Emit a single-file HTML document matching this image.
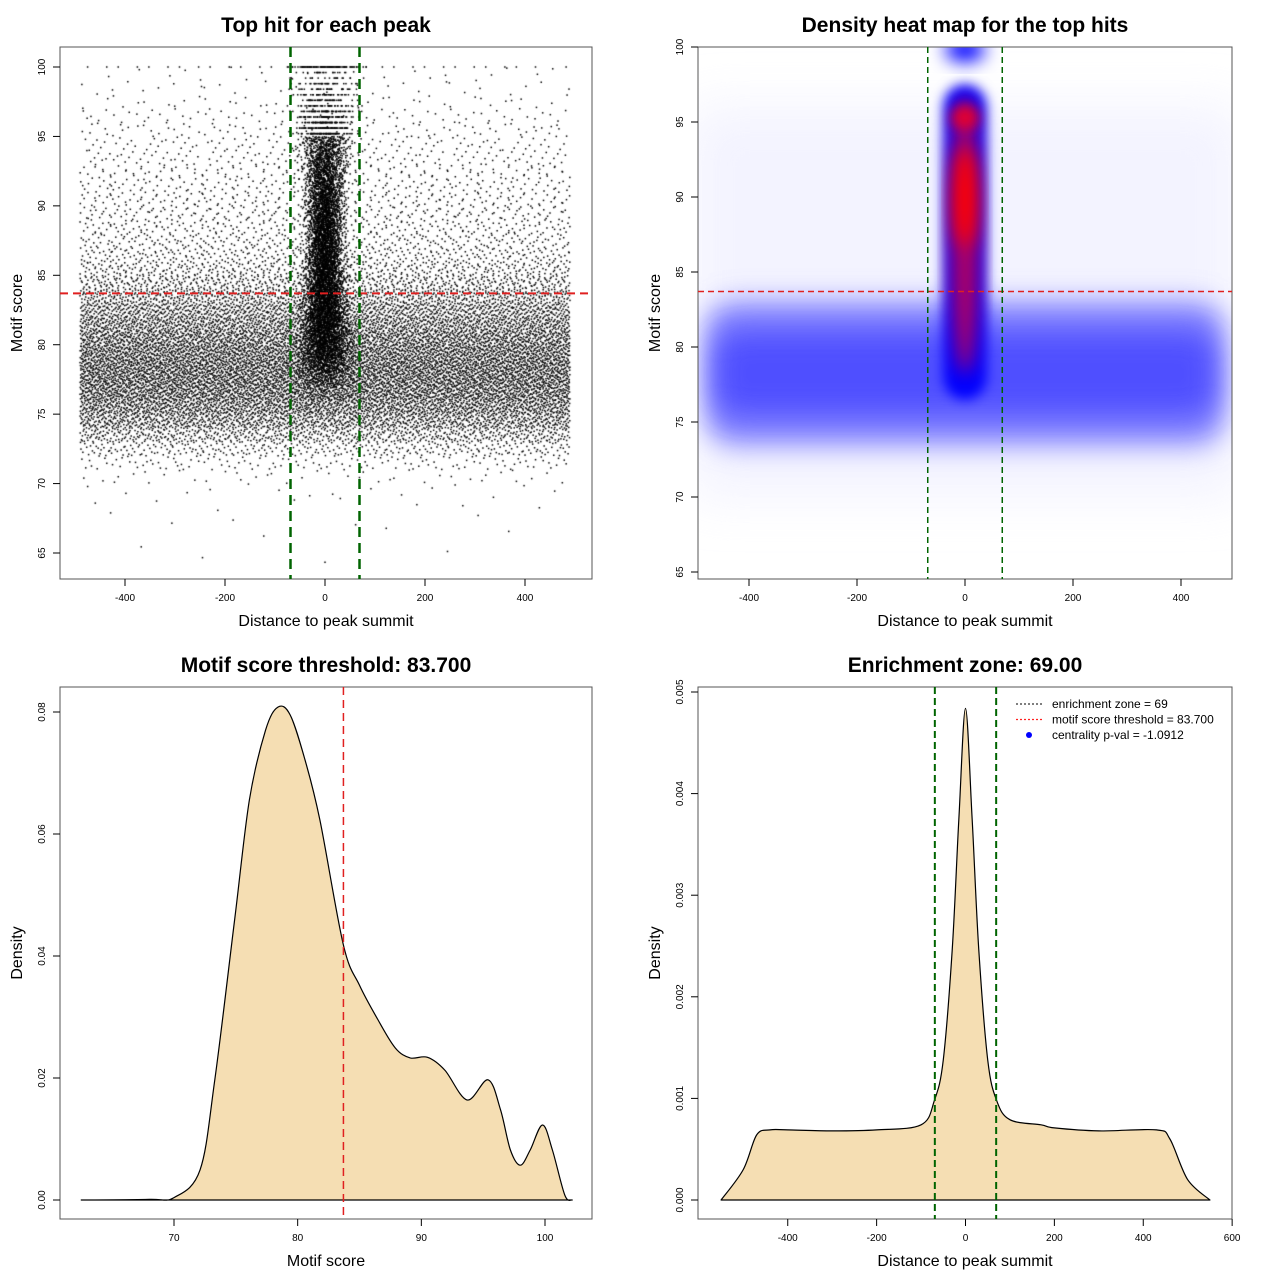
<!DOCTYPE html>
<html><head><meta charset="utf-8">
<style>
html,body{margin:0;padding:0;background:#fff;}
#wrap{position:relative;width:1280px;height:1280px;overflow:hidden;font-family:"Liberation Sans",Arial,sans-serif;}
canvas,svg{position:absolute;left:0;top:0;}
</style></head>
<body>
<div id="wrap">
<canvas id="sc" width="1280" height="1280"></canvas>
<svg id="sv" width="1280" height="1280" xmlns="http://www.w3.org/2000/svg">
<defs>
<filter id="b25" x="-50%" y="-50%" width="200%" height="200%"><feGaussianBlur stdDeviation="25"/></filter>
<filter id="b15" x="-50%" y="-50%" width="200%" height="200%"><feGaussianBlur stdDeviation="14"/></filter>
<filter id="b10" x="-50%" y="-50%" width="200%" height="200%"><feGaussianBlur stdDeviation="9"/></filter>
<filter id="b6" x="-50%" y="-50%" width="200%" height="200%"><feGaussianBlur stdDeviation="6"/></filter>
<clipPath id="c2"><rect x="698" y="47" width="534" height="532"/></clipPath>
</defs>
</svg>
</div>
<script>
// ---------- data ----------
const scoreBins = [64,65,66,67,68,69,70,71,72,73,74,75,76,77,78,79,80,81,82,83,84,85,86,87,88,89,90,91,92,93,94,95,96,97,98,99,100];
const bgCounts  = [2,2,3,5,8,15,40,130,320,650,1050,1350,1550,1650,1650,1550,1400,1200,1000,780,560,400,300,250,220,200,180,160,140,120,100,90,70,40,30,20,30];
const centerCounts = [0,0,0,0,0,0,0,0,0,0,0,10,50,130,280,390,450,470,470,460,450,440,420,400,390,370,350,320,300,270,240,200,160,110,80,50,90];
const centerSpread = [20,20,20,20,20,20,20,20,20,20,20,30,30,28,26,25,24,22,21,20,19,18,18,17,17,18,18,19,20,22,24,26,28,30,32,34,36];
const scoreX = [62.5,68,70,72.1,73.3,74.9,76.1,77.4,78.4,79.4,80.6,81.8,83.7,85,86.5,87.9,89.1,90.5,91.9,93.7,95.4,96.4,97.2,98,98.8,99.8,100.6,101.6,102.2];
const scoreD = [0,0.0001,0.0004,0.0049,0.0197,0.0459,0.0656,0.0770,0.0808,0.0795,0.0721,0.0623,0.0418,0.0352,0.0295,0.0249,0.0233,0.0234,0.0213,0.0164,0.0197,0.0148,0.0082,0.0057,0.0082,0.0123,0.0082,0.0008,0];
const distX = [-550,-500,-470,-440,-400,-300,-200,-100,-70,-50,-30,-15,0,15,30,50,70,100,170,200,300,430,460,500,550];
const distD = [0,0.0003,0.00064,0.00069,0.00069,0.00068,0.00069,0.00074,0.00098,0.00138,0.00246,0.00374,0.00484,0.00374,0.00246,0.00138,0.00098,0.00079,0.00074,0.00071,0.00068,0.00069,0.0006,0.0002,0];
const xTicks1 = [-400,-200,0,200,400];
const yTicks1 = [65,70,75,80,85,90,95,100];
const xTicks3 = [70,80,90,100];
const yTicks3 = [0,0.02,0.04,0.06,0.08];
const yLabels3 = ["0.00","0.02","0.04","0.06","0.08"];
const xTicks4 = [-400,-200,0,200,400,600];
const yTicks4 = [0,0.001,0.002,0.003,0.004,0.005];
const yLabels4 = ["0.000","0.001","0.002","0.003","0.004","0.005"];
const threshold = 83.7, zone = 69;

// ---------- scales ----------
const x1 = v => 325 + v*0.5, y1 = v => 67 + (100-v)*13.886;
const x2 = v => 965 + v*0.54, y2 = v => 47 + (100-v)*15;
const x3 = v => 174 + (v-70)*12.367, y3 = v => 1200 - v*6100;
const x4 = v => 965.5 + v*0.4444, y4 = v => 1200 - v*101600;

const NS="http://www.w3.org/2000/svg";
const svgRoot=document.getElementById('sv');
function mk(tag,attrs,parent){const e=document.createElementNS(NS,tag);for(const k in attrs)e.setAttribute(k,attrs[k]);(parent||svgRoot).appendChild(e);return e;}
function txt(s,x,y,size,opts){const t=mk('text',Object.assign({x:x,y:y,'font-size':size,'text-anchor':'middle',fill:'#000'},opts||{}));t.textContent=s;return t;}

// ---------- scatter (panel 1) ----------
function halton(i,b){let f=1,r=0;while(i>0){f/=b;r+=f*(i%b);i=Math.floor(i/b);}return r;}
const ctx=document.getElementById('sc').getContext('2d');
ctx.fillStyle='#000';
let idx=1;
scoreBins.forEach((s,bi)=>{
  for(let k=0;k<bgCounts[bi];k++,idx++){
    const dx=-490+980*halton(idx,2);
    const sv = s===100?100:s+halton(idx,3);
    ctx.fillRect(x1(dx)-0.75,y1(sv)-0.75,1.5,1.5);
  }
  for(let k=0;k<centerCounts[bi];k++,idx++){
    const g=(halton(idx,2)+halton(idx,5)+halton(idx,7)+halton(idx,11)-2)*1.73;
    const dx=g*centerSpread[bi];
    let sv = s===100?100:s+halton(idx,3);
    if(s>=95 && s<100) sv=Math.round(sv/0.4)*0.4;
    ctx.fillRect(x1(dx)-0.75,y1(sv)-0.75,1.5,1.5);
  }
});

// ---------- axes helper ----------
function panel(name,box,title,xlab,ylab,xt,xs,yt,ys,yl){
  const g=mk('g',{});
  
  
  const [L,T,R,B]=box;
  const fr=mk('rect',{x:L,y:T,width:R-L,height:B-T,fill:'none',stroke:'#555','stroke-width':1},g);
  
  const t=txt(title,(L+R)/2,T-15,21,{'font-weight':'bold'});g.appendChild(t);
  
  const xl=txt(xlab,(L+R)/2,B+47,16);g.appendChild(xl);
  
  const cy=(T+B)/2;
  const ylx=(L<300)?22:660;
  const yl2=txt(ylab,ylx,cy,16,{transform:`rotate(-90 ${ylx} ${cy})`});g.appendChild(yl2);
  
  xt.forEach(v=>{const p=xs(v);
    const l=mk('line',{x1:p,y1:B,x2:p,y2:B+7,stroke:'#000'},g);
    
    const tl=txt(String(v),p,B+22,10);g.appendChild(tl);
    });
  yt.forEach((v,i)=>{const p=ys(v);
    const l=mk('line',{x1:L,y1:p,x2:L-7,y2:p,stroke:'#000'},g);
    
    const lx=L-15;
    const tl=txt(yl?yl[i]:String(v),lx,p,10,{transform:`rotate(-90 ${lx} ${p})`});g.appendChild(tl);
    });
  return g;
}
function vline(x,y0,y1_,col,w,dash,name){const l=mk('line',{x1:x,y1:y0,x2:x,y2:y1_,stroke:col,'stroke-width':w,'stroke-dasharray':dash});return l;}
function hline(y,x0,x1_,col,w,dash,name){const l=mk('line',{x1:x0,y1:y,x2:x1_,y2:y,stroke:col,'stroke-width':w,'stroke-dasharray':dash});return l;}

// panel 1
panel('scatter-panel',[60,47,592,579],'Top hit for each peak','Distance to peak summit','Motif score',xTicks1,x1,yTicks1,y1);
hline(y1(threshold),60,592,'#e02020',2,'8,5','threshold-line');
vline(x1(-zone),47,579,'#006400',2.5,'10,6','zone-left-line');
vline(x1(zone),47,579,'#006400',2.5,'10,6','zone-right-line');

// panel 2 heat map
const hm=mk('g',{'clip-path':'url(#c2)'});

const band2=mk('rect',{x:690,y:y2(96),width:550,height:y2(70)-y2(96),fill:'#eeeeff',opacity:0.7,filter:'url(#b25)'},hm);

const band=mk('rect',{x:705,y:y2(83),width:520,height:y2(73.5)-y2(83),rx:30,fill:'#8080ff',filter:'url(#b15)'},hm);

const band3=mk('rect',{x:715,y:y2(81),width:500,height:y2(75.5)-y2(81),rx:25,fill:'#5050ff',filter:'url(#b15)'},hm);

const colRect=mk('rect',{x:x2(-40),y:y2(97.5),width:x2(40)-x2(-40),height:y2(76.5)-y2(97.5),rx:22,fill:'#0000ff',filter:'url(#b6)'},hm);

const topBlob=mk('ellipse',{cx:x2(0),cy:y2(99.8),rx:20,ry:12,fill:'#0000ff',filter:'url(#b10)'},hm);

const core=mk('ellipse',{cx:x2(0),cy:y2(87.5),rx:14,ry:140,fill:'#b00060',filter:'url(#b10)'},hm);

const core2=mk('ellipse',{cx:x2(0),cy:y2(95.3),rx:14,ry:13,fill:'#e00030',filter:'url(#b6)'},hm);

const core3=mk('ellipse',{cx:x2(0),cy:y2(90),rx:12,ry:50,fill:'#ff0000',filter:'url(#b10)'},hm);

panel('heatmap-panel',[698,47,1232,579],'Density heat map for the top hits','Distance to peak summit','Motif score',xTicks1,x2,yTicks1,y2);
hline(y2(threshold),698,1232,'#e02020',1.5,'6,4','threshold-line');
vline(x2(-zone),47,579,'#006400',1.5,'6,4','zone-left-line');
vline(x2(zone),47,579,'#006400',1.5,'6,4','zone-right-line');

// smooth area helper (Catmull-Rom)
function area(xs,ys,X,D,name){
  const pts=xs.map((v,i)=>[X(v),D(ys[i])]);
  let d=`M${pts[0][0]},${D(0)} L${pts[0][0]},${pts[0][1]}`;
  for(let i=0;i<pts.length-1;i++){
    const p0=pts[Math.max(0,i-1)],p1=pts[i],p2=pts[i+1],p3=pts[Math.min(pts.length-1,i+2)];
    const c1=[p1[0]+(p2[0]-p0[0])/6,p1[1]+(p2[1]-p0[1])/6];
    const c2=[p2[0]-(p3[0]-p1[0])/6,p2[1]-(p3[1]-p1[1])/6];
    d+=` C${c1[0].toFixed(1)},${c1[1].toFixed(1)} ${c2[0].toFixed(1)},${c2[1].toFixed(1)} ${p2[0].toFixed(1)},${p2[1].toFixed(1)}`;
  }
  d+=` L${pts[pts.length-1][0]},${D(0)} Z`;
  const p=mk('path',{d:d,fill:'#f5deb3',stroke:'#000','stroke-width':1.2,'stroke-linejoin':'round'});
  
}
// panel 3
panel('score-density-panel',[60,687,592,1219],'Motif score threshold: 83.700','Motif score','Density',xTicks3,x3,yTicks3,y3,yLabels3);
area(scoreX,scoreD,x3,y3,'score-density-curve');
vline(x3(threshold),687,1219,'#e02020',1.5,'8,5','threshold-line');

// panel 4
panel('distance-density-panel',[698,687,1232,1219],'Enrichment zone: 69.00','Distance to peak summit','Density',xTicks4,x4,yTicks4,y4,yLabels4);
area(distX,distD,x4,y4,'distance-density-curve');
vline(x4(-zone),687,1219,'#006400',2,'7,4','zone-left-line');
vline(x4(zone),687,1219,'#006400',2,'7,4','zone-right-line');
const lg=mk('g',{});

const items=[['enrichment zone = 69','#333','line'],['motif score threshold = 83.700','#ff2020','line'],['centrality p-val = -1.0912','#0000ff','dot']];
items.forEach((it,i)=>{const y=704+i*15.5;
  if(it[2]==='line'){const l=mk('line',{x1:1016,y1:y,x2:1042,y2:y,stroke:it[1],'stroke-width':1.2,'stroke-dasharray':'2,2'},lg);}
  else{const c=mk('circle',{cx:1029,cy:y,r:3,fill:it[1]},lg);}
  const t=txt(it[0],1052,y+4,12,{'text-anchor':'start'});lg.appendChild(t);
  
});
</script>
</body></html>
